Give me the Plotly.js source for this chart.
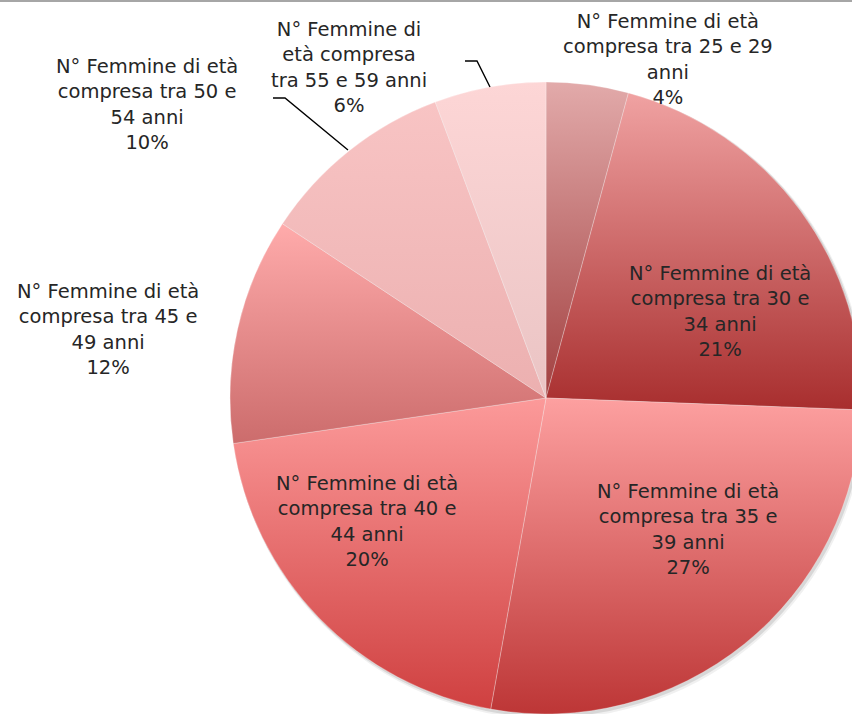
<!DOCTYPE html>
<html>
<head>
<meta charset="utf-8">
<script src="https://cdn.plot.ly/plotly-3.0.1.min.js"></script>
<style>
  html, body { margin: 0; padding: 0; overflow: hidden; background: #ffffff; width: 852px; height: 714px; }
  #chart { position: absolute; left: 0; top: 0; }
</style>
</head>
<body>
<div id="chart"></div>
<script>
// ---- data ----
const labels = [
  "N° Femmine di età<br>compresa tra 25 e 29<br>anni",
  "N° Femmine di età<br>compresa tra 30 e<br>34 anni",
  "N° Femmine di età<br>compresa tra 35 e<br>39 anni",
  "N° Femmine di età<br>compresa tra 40 e<br>44 anni",
  "N° Femmine di età<br>compresa tra 45 e<br>49 anni",
  "N° Femmine di età<br>compresa tra 50 e<br>54 anni",
  "N° Femmine di<br>età compresa<br>tra 55 e 59 anni"
];
const values = [4.2, 21.4, 27.2, 19.9, 11.6, 10.0, 5.7];

// ---- styles ----
const topColors    = ["#e2aaaa", "#f0a2a2", "#fda0a0", "#fc9a9a", "#ffabab", "#f8c4c4", "#fdd6d6"];
const bottomColors = ["#a24040", "#a82e2e", "#bd3636", "#cf4040", "#cc6c6c", "#ecb0b0", "#eac4c4"];
const solidColors  = ["#c27575", "#cc6868", "#dd6b6b", "#e66d6d", "#e68c8c", "#f2baba", "#f4cdcd"];

// label centres in pixels (layout)
const labelPos = [[668, 60], [720, 312], [688, 529], [367, 521], [108, 329], [147, 105], [349, 67]];

const W = 1092, H = 796;          // drawing larger than the window: pie is clipped right/bottom
const CX = 546, CY = 398, R = 316;
const px = x => x / W;
const py = y => 1 - y / H;

const total = values.reduce((a, b) => a + b, 0);
const annotations = labels.map((lab, i) => ({
  x: px(labelPos[i][0]), y: py(labelPos[i][1]),
  xref: 'paper', yref: 'paper', xanchor: 'center', yanchor: 'middle',
  showarrow: false, align: 'center',
  text: lab + '<br>' + Math.round(values[i] / total * 100) + '%',
  font: { family: 'DejaVu Sans, sans-serif', size: 19.5, color: '#262626' }
}));

function leader(pts) {
  return {
    type: 'path', xref: 'paper', yref: 'paper', layer: 'above',
    path: 'M' + pts.map(p => px(p[0]) + ',' + py(p[1])).join(' L'),
    line: { color: '#000000', width: 1.4 }
  };
}

const shapes = [
  // soft shadow under the pie
  { type: 'circle', xref: 'paper', yref: 'paper', layer: 'below',
    x0: px(CX - R + 1), x1: px(CX + R + 4), y0: py(CY + R + 5), y1: py(CY - R + 1),
    fillcolor: 'rgba(0,0,0,0.06)', line: { width: 0 } },
  { type: 'circle', xref: 'paper', yref: 'paper', layer: 'below',
    x0: px(CX - R + 1), x1: px(CX + R + 2.5), y0: py(CY + R + 3), y1: py(CY - R + 1),
    fillcolor: 'rgba(0,0,0,0.10)', line: { width: 0 } },
  // top frame line
  { type: 'rect', xref: 'paper', yref: 'paper', layer: 'above',
    x0: 0, x1: 1, y0: py(2), y1: 1, fillcolor: '#a6a6a6', line: { width: 0 } },
  leader([[348, 150], [285, 98], [273, 98]]),
  leader([[490, 87], [477, 61], [465, 61]])
];

const trace = {
  type: 'pie',
  labels: labels,
  values: values,
  sort: false,
  direction: 'clockwise',
  rotation: 0,
  textinfo: 'none',
  hoverinfo: 'skip',
  marker: { colors: solidColors, line: { color: 'rgba(255,255,255,0.35)', width: 0.8 } },
  domain: { x: [px(CX - R), px(CX + R)], y: [py(CY + R), py(CY - R)] },
  showlegend: false
};

const layout = {
  width: W, height: H,
  margin: { l: 0, r: 0, t: 0, b: 0, pad: 0 },
  paper_bgcolor: '#ffffff',
  plot_bgcolor: '#ffffff',
  showlegend: false,
  annotations: annotations,
  shapes: shapes
};

Plotly.newPlot('chart', [trace], layout, { staticPlot: true, displayModeBar: false }).then(gd => {
  const svg = gd.querySelector('svg.main-svg');
  if (!svg) return;
  const NS = 'http://www.w3.org/2000/svg';
  let defs = svg.querySelector('defs');
  if (!defs) { defs = document.createElementNS(NS, 'defs'); svg.insertBefore(defs, svg.firstChild); }
  topColors.forEach((c, i) => {
    const g = document.createElementNS(NS, 'linearGradient');
    g.setAttribute('id', 'sliceGrad' + i);
    g.setAttribute('x1', '0'); g.setAttribute('y1', '0');
    g.setAttribute('x2', '0'); g.setAttribute('y2', '1');
    const s1 = document.createElementNS(NS, 'stop');
    s1.setAttribute('offset', '0'); s1.setAttribute('stop-color', c);
    const s2 = document.createElementNS(NS, 'stop');
    s2.setAttribute('offset', '1'); s2.setAttribute('stop-color', bottomColors[i]);
    g.appendChild(s1); g.appendChild(s2);
    defs.appendChild(g);
  });
  gd.querySelectorAll('g.slice').forEach((sl, i) => {
    const p = sl.querySelector('path.surface');
    if (p) p.style.fill = 'url(#sliceGrad' + i + ')';
  });
});
</script>
</body>
</html>
